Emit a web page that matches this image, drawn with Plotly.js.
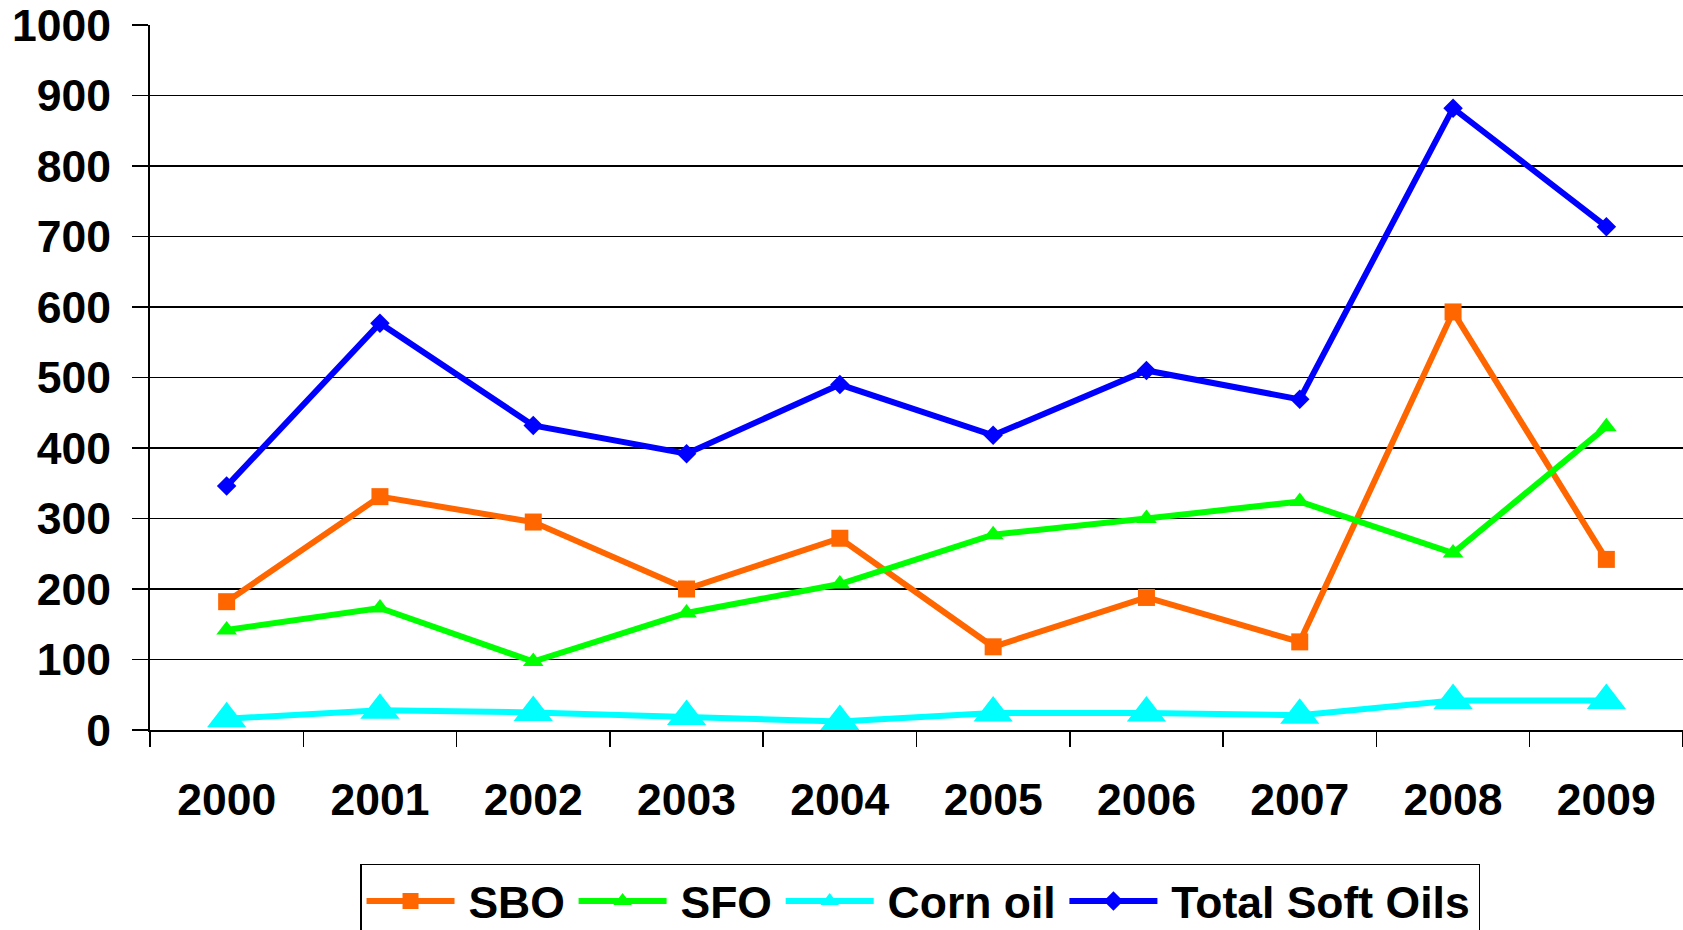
<!DOCTYPE html>
<html>
<head>
<meta charset="utf-8">
<script src="https://cdn.plot.ly/plotly-3.0.1.min.js"></script>
<style>
html,body{margin:0;padding:0;background:#fff;overflow:hidden;}
#chart{width:1683px;height:930px;}
</style>
</head>
<body>
<div id="chart"></div>
<script>
const years = ["2000","2001","2002","2003","2004","2005","2006","2007","2008","2009"];
const sbo = [182, 331, 295, 200, 272, 118, 188, 125, 593, 242];
const sfo = [142, 173, 97, 166, 207, 277, 300, 324, 251, 430];
const cornOil = [16, 28, 25, 19, 12, 24, 24, 21, 42, 42];
const totalSoftOils = [346, 577, 432, 392, 490, 418, 510, 469, 882, 714];
const yTicks = [0,100,200,300,400,500,600,700,800,900,1000];
const seriesNames = ["SBO", "SFO", "Corn oil", "Total Soft Oils"];

const FONT = "'Liberation Sans', Arial, sans-serif";
const TS = "\u2009"; // thin space: gap between legend symbol and text
const HS = "\u200A"; // hair space: gap between legend entries

const traces = [
  {name:TS+seriesNames[0]+HS, x:years, y:sbo, type:"scatter", mode:"lines+markers",
   line:{color:"#FF6600", width:6}, marker:{symbol:"square", size:17, color:"#FF6600"}},
  {name:TS+seriesNames[1]+HS, x:years, y:sfo, type:"scatter", mode:"lines+markers",
   line:{color:"#00FF00", width:6}, marker:{symbol:"triangle-up", size:18, color:"#00FF00"}},
  {name:TS+seriesNames[2]+HS, x:years, y:cornOil, type:"scatter", mode:"lines+markers",
   line:{color:"#00FFFF", width:6}, marker:{symbol:"triangle-up", size:34, color:"#00FFFF"}},
  {name:TS+seriesNames[3]+HS, x:years, y:totalSoftOils, type:"scatter", mode:"lines+markers",
   line:{color:"#0000FF", width:6}, marker:{symbol:"diamond", size:15, color:"#0000FF"}}
];

const layout = {
  width:1683, height:930,
  margin:{l:150, r:0, t:25, b:200, autoexpand:false},
  paper_bgcolor:"#fff", plot_bgcolor:"#fff",
  font:{family:FONT, color:"#000", size:44.5, weight:"bold"},
  showlegend:true,
  legend:{
    orientation:"h", x:0.137, xanchor:"left", y:-0.19, yanchor:"top",
    bordercolor:"#000", borderwidth:1.5, bgcolor:"#fff",
    font:{family:FONT, size:44.5, color:"#000", weight:"bold"},
    itemsizing:"trace", itemwidth:88, traceorder:"normal"
  },
  xaxis:{
    type:"category", range:[-0.5, 9.5], tickson:"boundaries",
    ticks:"outside", ticklen:15, tickwidth:1.5, tickcolor:"#000",
    showline:true, linecolor:"#000", linewidth:2, showgrid:false, zeroline:false,
    tickfont:{family:FONT, size:44.5, color:"#000", weight:"bold"},
    ticklabelstandoff:30, fixedrange:true
  },
  yaxis:{
    range:[0,1000], tickmode:"array", tickvals:yTicks, ticktext:yTicks.map(String),
    ticks:"outside", ticklen:16, tickwidth:1.5, tickcolor:"#000",
    showline:true, linecolor:"#000", linewidth:2,
    showgrid:true, gridcolor:"#000", gridwidth:1.4, zeroline:false,
    tickfont:{family:FONT, size:44.5, color:"#000", weight:"bold"},
    ticklabelstandoff:12, fixedrange:true
  }
};

Plotly.newPlot("chart", traces, layout, {displayModeBar:false, staticPlot:true});
</script>
</body>
</html>
